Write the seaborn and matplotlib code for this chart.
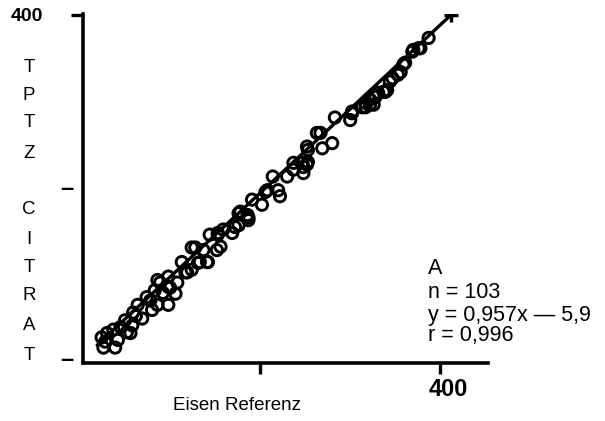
import matplotlib
matplotlib.use("Agg")
import matplotlib.pyplot as plt
import matplotlib.transforms as mtransforms
import seaborn as sns
import pandas as pd

# ---- data ----
eisen_referenz = [24, 26, 30, 37, 39, 42, 50, 52, 58, 56, 59, 64, 69, 74, 80, 83, 86, 89, 92, 98,
                  98, 98, 106, 108, 113, 117, 124, 124, 131, 137, 141, 144, 152, 153, 169, 176, 187, 191, 202, 206,
                  214, 220, 230, 237, 247, 252, 253, 267, 269, 280, 283, 300, 302, 313, 317, 326, 331, 341, 347, 356,
                  361, 370, 378, 387, 86, 100, 119, 128, 133, 142, 153, 156, 176, 186, 159, 172, 178, 187, 208, 222,
                  248, 252, 237, 248, 253, 263, 302, 317, 322, 326, 339, 328, 337, 344, 353, 359, 369, 376, 322, 28,
                  45, 62, 78]
tptz_citrat = [23, 11, 28, 32, 11, 20, 43, 29, 37, 28, 52, 61, 45, 70, 55, 78, 61, 87, 75, 94,
               82, 61, 74, 87, 111, 99, 128, 102, 110, 125, 111, 143, 125, 145, 145, 168, 163, 184, 178, 193,
               211, 195, 211, 227, 227, 246, 228, 262, 244, 250, 280, 277, 285, 292, 297, 295, 309, 312, 326, 333,
               344, 359, 361, 373, 90, 81, 99, 128, 111, 111, 143, 129, 154, 166, 149, 152, 170, 160, 195, 188,
               215, 225, 219, 222, 242, 262, 287, 292, 295, 306, 310, 304, 310, 322, 330, 342, 357, 361, 301, 18,
               35, 48, 66]
line_x = [19, 412]
line_y = [14, 400]

x_ticks = [200, 400]
x_ticklabels = ["", "400"]
y_major_ticks = [400]
y_major_labels = ["400"]
y_minor_ticks = [0, 200]
y_minor_labels = ["\u2013", "\u2013"]
y_letters = ["T", "P", "T", "Z", "C", "I", "T", "R", "A", "T"]
y_letter_px = [68, 95, 122, 153, 210, 240, 267, 296, 325, 355]
stats_lines = ["A", "n = 103", "y = 0,957x \u2014 5,9", "r = 0,996"]
stats_px = [268, 292, 315, 336]

df = pd.DataFrame({"x": eisen_referenz, "y": tptz_citrat})
line_df = pd.DataFrame({"x": line_x, "y": line_y})

sns.set_theme(style="white")
plt.rcParams["font.family"] = ["Liberation Sans", "DejaVu Sans"]
plt.rcParams["text.color"] = "black"
plt.rcParams["xtick.color"] = "black"
plt.rcParams["ytick.color"] = "black"
plt.rcParams["axes.labelcolor"] = "black"

W, H = 605, 421
fig = plt.figure(figsize=(W / 100, H / 100), dpi=100)
ax = fig.add_axes([83 / W, 1 - 363 / H, (488 - 83) / W, (363 - 14) / H])

sns.lineplot(data=line_df, x="x", y="y", ax=ax, color="black", linewidth=2.4, zorder=3)
ax.plot(line_x[-1:], line_y[-1:], marker="+", color="black", markersize=10, mew=2.5, zorder=4)
sns.scatterplot(data=df, x="x", y="y", ax=ax, marker="o", s=66, facecolor="none",
                edgecolor="black", linewidth=2.1, zorder=2)

ax.set_xlim(3.3, 453)
ax.set_ylim(-7, 401)
ax.set_xlabel("")
ax.set_ylabel("")

for s in ["top", "right"]:
    ax.spines[s].set_visible(False)
for s in ["left", "bottom"]:
    ax.spines[s].set_color("black")
    ax.spines[s].set_linewidth(2.6)

ax.set_xticks(x_ticks)
ax.set_xticklabels(x_ticklabels, fontsize=17, fontweight="bold", color="black")
ax.tick_params(axis="x", which="major", direction="out", length=8, width=2.4,
               color="black", labelcolor="black", pad=3, bottom=True)
offset = mtransforms.ScaledTranslation(8 / 100, 0, fig.dpi_scale_trans)
for lab in ax.get_xticklabels():
    lab.set_transform(lab.get_transform() + offset)

ax.set_yticks(y_major_ticks)
ax.set_yticklabels(y_major_labels, fontsize=14, fontweight="bold", color="black")
ax.set_yticks(y_minor_ticks, minor=True)
ax.set_yticklabels(y_minor_labels, minor=True, fontsize=17, fontweight="bold", color="black")
ax.tick_params(axis="y", which="major", direction="out", length=9, width=2.4,
               color="black", labelcolor="black", pad=20, left=True)
ax.tick_params(axis="y", which="minor", length=0, pad=7, left=True, labelcolor="black")

for ch, py in zip(y_letters, y_letter_px):
    fig.text(29 / W, 1 - py / H, ch, ha="center", va="center", fontsize=13.5, color="black")

for t, py in zip(stats_lines, stats_px):
    fig.text(428 / W, 1 - py / H, t, ha="left", va="center", fontsize=15.5, color="black")

fig.text(237 / W, 1 - 406 / H, "Eisen Referenz", ha="center", va="center", fontsize=13.5, color="black")

fig.savefig("out.png", dpi=100)
